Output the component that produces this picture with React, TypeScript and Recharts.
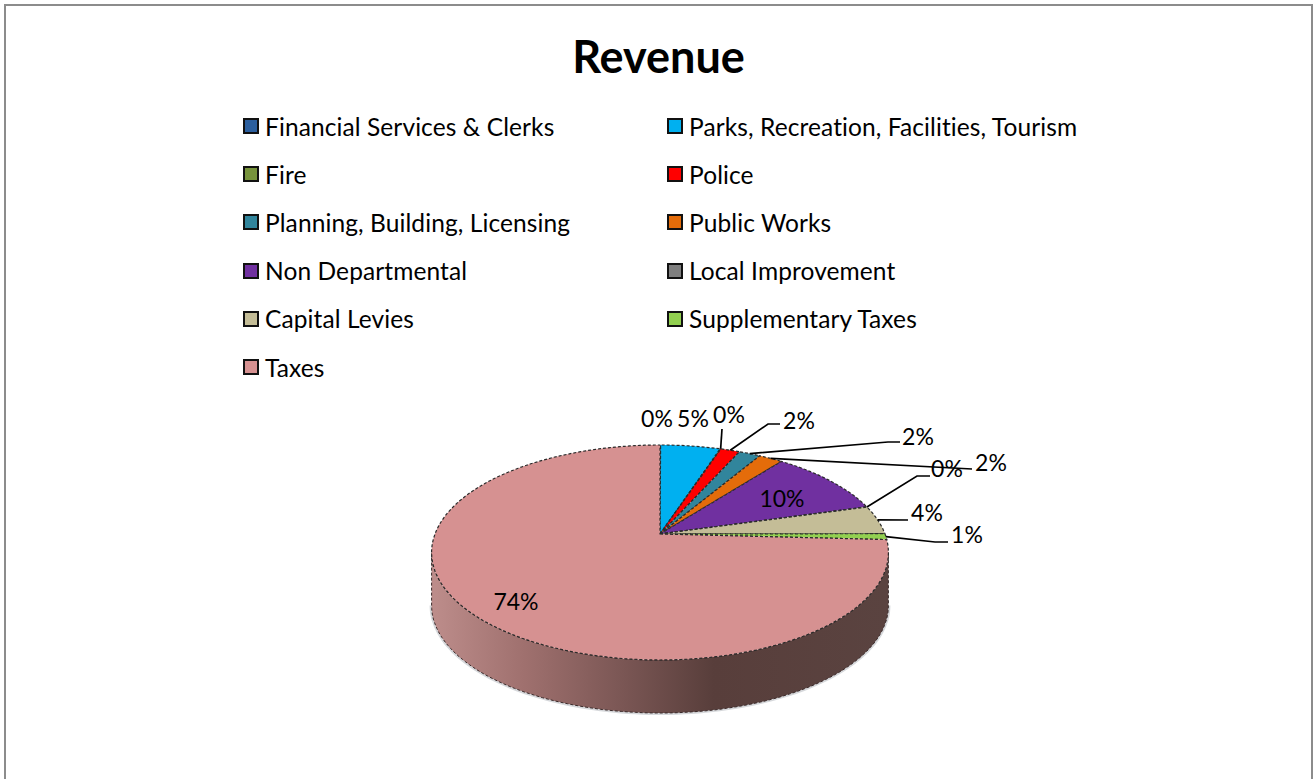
/**
 * Revenue: tilted pie with a side wall, two-column legend and leader-line labels.
 * Recharts has no 3D pie, so the Pie shape projects each sector onto a tilted disc.
 */
import { Legend, Pie, PieChart } from 'recharts'

const categories = [
  'Financial Services & Clerks',
  'Parks, Recreation, Facilities, Tourism',
  'Fire',
  'Police',
  'Planning, Building, Licensing',
  'Public Works',
  'Non Departmental',
  'Local Improvement',
  'Capital Levies',
  'Supplementary Taxes',
  'Taxes',
]
const shares = [0.05, 5.0, 0.05, 1.6, 1.8, 2.0, 10.1, 0.05, 4.3, 0.9, 74.15]
const colors = [
  '#2C5F9E', '#00B0F0', '#77933C', '#FF0000', '#31859C', '#E46C0A',
  '#7030A0', '#7F7F7F', '#C4BD97', '#92D050', '#D69191',
]

// label text centre, then the bends of its leader line (chart pixels)
const labelLayout: { x: number; y: number; bends?: number[][] }[] = [
  { x: 657, y: 418 },
  { x: 693, y: 418 },
  { x: 729, y: 414, bends: [[722, 429]] },
  { x: 799, y: 420, bends: [[768, 424], [780, 424]] },
  { x: 918, y: 436, bends: [[888, 442], [900, 442]] },
  { x: 991, y: 462, bends: [[972, 469]] },
  { x: 782, y: 498 },
  { x: 947, y: 468, bends: [[917, 476], [930, 476]] },
  { x: 927, y: 512, bends: [[908, 520]] },
  { x: 967, y: 534, bends: [[935, 542], [948, 542]] },
  { x: 516, y: 601 },
]

const data = categories.map((name, i) => ({ name, value: shares[i], fill: colors[i] }))

const FONT = 'Lato, "Open Sans", sans-serif'
const TILT = 0.4636
const PERSPECTIVE = -0.172
const WALL = 53
// clockwise degrees from 12 o'clock where the disc outline turns away from the viewer
const WALL_FROM = 99.9
const WALL_TO = 260.1

function project(cx: number, cy: number, r: number, clockDeg: number) {
  const t = (clockDeg * Math.PI) / 180
  const u = Math.sin(t)
  const v = -Math.cos(t)
  const d = 1 + PERSPECTIVE * v
  return { x: cx + (r * u) / d, y: cy + (r * TILT * v) / d }
}

function arcPoints(cx: number, cy: number, r: number, from: number, to: number) {
  const steps = Math.max(2, Math.ceil((to - from) / 1.5))
  const pts = []
  for (let i = 0; i <= steps; i++) pts.push(project(cx, cy, r, from + ((to - from) * i) / steps))
  return pts
}

const toPath = (pts: { x: number; y: number }[]) =>
  pts.map((p, i) => `${i ? 'L' : 'M'}${p.x.toFixed(1)},${p.y.toFixed(1)}`).join(' ')

function TiltedSector(props: any) {
  const { cx, cy, outerRadius, startAngle, endAngle, fill } = props
  const from = 90 - startAngle
  const to = 90 - endAngle
  const arc = arcPoints(cx, cy, outerRadius, from, to)
  const top = `M${cx},${cy} ${toPath(arc).replace('M', 'L')} Z`

  const wallFrom = Math.max(from, WALL_FROM)
  const wallTo = Math.min(to, WALL_TO)
  let wall = null
  if (wallTo > wallFrom) {
    const front = arcPoints(cx, cy, outerRadius, wallFrom, wallTo)
    const lower = front.map((p) => ({ x: p.x, y: p.y + WALL })).reverse()
    const d = `${toPath(front)} ${toPath(lower).replace('M', 'L')} Z`
    wall = (
      <g>
        <defs>
          <linearGradient
            id="taxesWall"
            gradientUnits="userSpaceOnUse"
            x1={cx - outerRadius}
            x2={cx + outerRadius}
            y1={0}
            y2={0}
          >
            <stop offset="0%" stopColor="#BC8C8A" />
            <stop offset="20%" stopColor="#9F706E" />
            <stop offset="42%" stopColor="#7A5654" />
            <stop offset="62%" stopColor="#583E3B" />
            <stop offset="100%" stopColor="#5A4340" />
          </linearGradient>
        </defs>
        <path d={toPath(lower)} fill="none" stroke="#8a9099" strokeOpacity={0.35} strokeWidth={4} />
        <path d={d} fill="url(#taxesWall)" stroke="#3a2a2a" strokeWidth={1} strokeDasharray="3 2" />
      </g>
    )
  }

  return (
    <g>
      {wall}
      <path d={top} fill={fill} stroke="#2b2b2b" strokeWidth={1.2} strokeDasharray="3 2" strokeLinejoin="round" />
    </g>
  )
}

function SliceLabel(props: any) {
  const { cx, cy, outerRadius, midAngle, index, percent } = props
  const place = labelLayout[index]
  const anchor = project(cx, cy, outerRadius, 90 - midAngle)
  const points = [[anchor.x, anchor.y], ...(place.bends ?? [])]
  return (
    <g>
      {place.bends ? (
        <polyline points={points.join(' ')} fill="none" stroke="#000" strokeWidth={1.7} />
      ) : null}
      <text
        x={place.x}
        y={place.y}
        textAnchor="middle"
        dominantBaseline="central"
        fontFamily={FONT}
        fontSize={23}
        fill="#000"
      >
        {`${Math.round(percent * 100)}%`}
      </text>
    </g>
  )
}

function TwoColumnLegend({ payload }: any) {
  return (
    <div style={{ display: 'grid', gridTemplateColumns: '424px 424px', gridAutoRows: '48.2px' }}>
      {(payload ?? []).map((entry: any) => (
        <div key={entry.value} style={{ display: 'flex', alignItems: 'center', height: 48.2 }}>
          <span
            style={{
              display: 'inline-block',
              boxSizing: 'border-box',
              width: 16,
              height: 16,
              marginRight: 6,
              backgroundColor: entry.payload?.fill ?? entry.color,
              border: '2px solid #111',
            }}
          />
          <span
            style={{
              fontFamily: FONT,
              fontSize: 24.5,
              letterSpacing: 0.1,
              fontVariantLigatures: 'none',
              color: '#000',
              whiteSpace: 'nowrap',
            }}
          >
            {entry.value}
          </span>
        </div>
      ))}
    </div>
  )
}

export default function App() {
  return (
    <div style={{ position: 'fixed', left: 0, top: 0, width: 1314, height: 779, overflow: 'hidden', background: '#fff' }}>
      <div
        style={{
          position: 'absolute',
          left: 4,
          top: 4,
          width: 1305,
          height: 780,
          border: '2px solid #8c8c8c',
        }}
      />
      <div
        style={{
          position: 'absolute',
          left: 0,
          width: 1317,
          top: 31,
          textAlign: 'center',
          fontFamily: FONT,
          fontWeight: 700,
          fontSize: 45,
          lineHeight: '50px',
          color: '#000',
        }}
      >
        Revenue
      </div>
      <div style={{ position: 'absolute', left: 0, top: 0 }}>
        <PieChart width={1314} height={779} margin={{ top: 0, right: 0, bottom: 0, left: 0 }}>
          <Legend
            verticalAlign="bottom"
            itemSorter={null}
            content={<TwoColumnLegend />}
            wrapperStyle={{ position: 'absolute', left: 243, top: 102, bottom: 'auto', width: 848 }}
          />
          <Pie
            data={data}
            dataKey="value"
            nameKey="name"
            cx={660}
            cy={534}
            outerRadius={225}
            startAngle={90}
            endAngle={-270}
            paddingAngle={0}
            isAnimationActive={false}
            shape={TiltedSector}
            label={SliceLabel}
            labelLine={false}
          />
        </PieChart>
      </div>
    </div>
  )
}
